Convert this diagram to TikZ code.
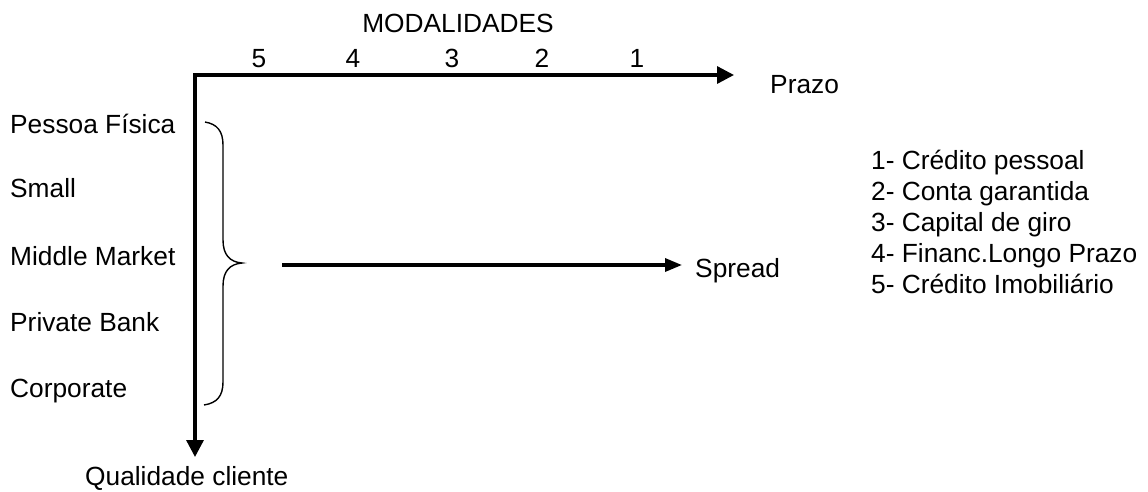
\documentclass[tikz,border=0pt]{standalone}
\usepackage{fontspec}
\setmainfont{Liberation Sans}
\usetikzlibrary{arrows.meta}
\begin{document}
\begin{tikzpicture}[x=1pt,y=-1pt,
  lbl/.style={inner sep=0pt,font=\fontsize{26.3}{26}\selectfont},
  axis/.style={line width=3.3pt,-{Triangle[length=17pt,width=17pt]}},
  bracestyle/.style={line width=1.4pt}]
\useasboundingbox (0,0) rectangle (1148,491);
% axes
\coordinate (O) at (195,75);
\coordinate (xtip) at (734,75);
\coordinate (ytip) at (195,457);
\draw[axis] ([xshift=-1.65pt]O) -- (xtip);
\draw[axis] (O) -- (ytip);
% axis titles
\node[lbl,anchor=base] (mod) at (458,32) {MODALIDADES};
\node[lbl,anchor=base west] (prazo) at (770,93) {Prazo};
\node[lbl,anchor=base west] (qual) at (85,485) {Qualidade cliente};
% modality numbers
\node[lbl,anchor=base] (m5) at (259,67) {5};
\node[lbl,anchor=base] (m4) at (353,67) {4};
\node[lbl,anchor=base] (m3) at (452,67) {3};
\node[lbl,anchor=base] (m2) at (542,67) {2};
\node[lbl,anchor=base] (m1) at (637,67) {1};
% client segments
\node[lbl,anchor=base west] (pf) at (10,133) {Pessoa Física};
\node[lbl,anchor=base west] (sm) at (10,197) {Small};
\node[lbl,anchor=base west] (mm) at (10,265) {Middle Market};
\node[lbl,anchor=base west] (pb) at (10,331) {Private Bank};
\node[lbl,anchor=base west] (co) at (10,397) {Corporate};
% brace
\draw[bracestyle] (205,122) .. controls (217,124) and (223,131) .. (223,145)
  -- (223,240) .. controls (223,255) and (230,262) .. (242,263)
  .. controls (230,264) and (223,271) .. (223,286)
  -- (223,382) .. controls (223,396) and (217,403) .. (204,405);
% spread arrow
\coordinate (sstart) at (282,265);
\coordinate (send) at (682,265);
\node[lbl,anchor=base west] (spread) at (695,277) {Spread};
\draw[line width=3.3pt,-{Triangle[length=17pt,width=13pt]}] (sstart) -- (send);
% legend
\node[lbl,anchor=base west] (l1) at (871,169) {1- Crédito pessoal};
\node[lbl,anchor=base west] (l2) at (871,200) {2- Conta garantida};
\node[lbl,anchor=base west] (l3) at (871,231) {3- Capital de giro};
\node[lbl,anchor=base west] (l4) at (871,262) {4- Financ.Longo Prazo};
\node[lbl,anchor=base west] (l5) at (871,293) {5- Crédito Imobiliário};
\end{tikzpicture}
\end{document}
